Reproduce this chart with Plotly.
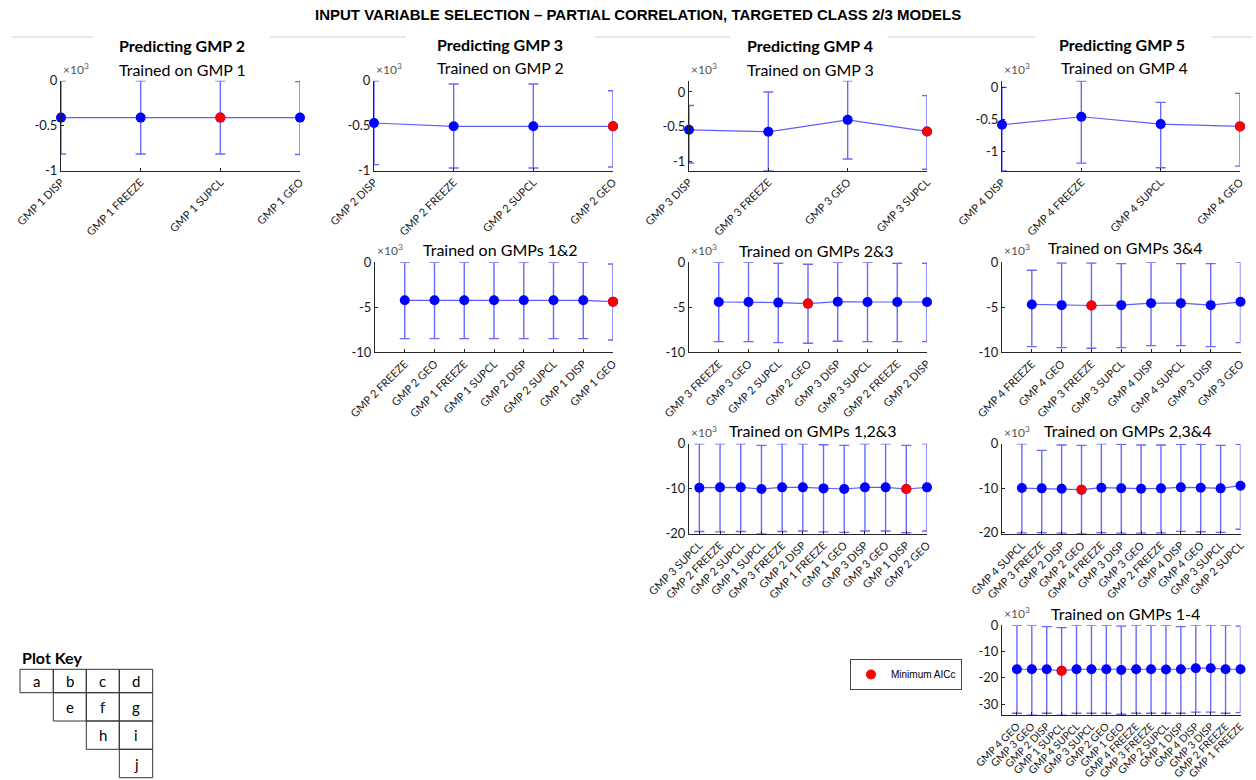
import plotly.graph_objects as go

W, H = 1256, 780

# ---------------- data (AICc, units of 10^3) ----------------
# a: Predicting GMP 2, trained on GMP 1
a_labels = ["GMP 1 DISP", "GMP 1 FREEZE", "GMP 1 SUPCL", "GMP 1 GEO"]
a_mean = [-0.41, -0.41, -0.41, -0.41]
a_high = [0.0, 0.0, 0.0, -0.01]
a_low = [-0.815, -0.815, -0.815, -0.82]
a_min = 2

# b: Predicting GMP 3, trained on GMP 2
b_labels = ["GMP 2 DISP", "GMP 2 FREEZE", "GMP 2 SUPCL", "GMP 2 GEO"]
b_mean = [-0.47, -0.507, -0.507, -0.507]
b_high = [0.0, -0.037, -0.037, -0.111]
b_low = [-0.933, -0.97, -0.97, -0.959]
b_min = 3

# c: Predicting GMP 4, trained on GMP 3
c_labels = ["GMP 3 DISP", "GMP 3 FREEZE", "GMP 3 GEO", "GMP 3 SUPCL"]
c_mean = [-0.548, -0.577, -0.404, -0.572]
c_high = [-0.197, 0.0, 0.16, -0.053]
c_low = [-1.029, -1.14, -0.971, -1.12]
c_min = 3

# d: Predicting GMP 5, trained on GMP 4
d_labels = ["GMP 4 DISP", "GMP 4 FREEZE", "GMP 4 SUPCL", "GMP 4 GEO"]
d_mean = [-0.583, -0.458, -0.573, -0.609]
d_high = [0.0, 0.10, -0.234, -0.094]
d_low = [-1.30, -1.182, -1.255, -1.229]
d_min = 3

# e: Predicting GMP 3, trained on GMPs 1&2
e_labels = ["GMP 2 FREEZE", "GMP 2 GEO", "GMP 1 FREEZE", "GMP 1 SUPCL",
            "GMP 2 DISP", "GMP 2 SUPCL", "GMP 1 DISP", "GMP 1 GEO"]
e_mean = [-4.22, -4.22, -4.22, -4.22, -4.22, -4.22, -4.22, -4.37]
e_high = [0.0, 0.0, 0.0, 0.0, 0.0, 0.0, 0.0, -0.19]
e_low = [-8.48, -8.48, -8.48, -8.48, -8.48, -8.48, -8.48, -8.63]
e_min = 7

# f: Predicting GMP 4, trained on GMPs 2&3
f_labels = ["GMP 3 FREEZE", "GMP 3 GEO", "GMP 2 SUPCL", "GMP 2 GEO",
            "GMP 3 DISP", "GMP 3 SUPCL", "GMP 2 FREEZE", "GMP 2 DISP"]
f_mean = [-4.41, -4.41, -4.48, -4.59, -4.37, -4.41, -4.41, -4.41]
f_high = [0.0, 0.0, -0.11, -0.22, 0.0, 0.0, -0.11, -0.11]
f_low = [-8.81, -8.81, -8.93, -9.0, -8.78, -8.81, -8.81, -8.81]
f_min = 3

# g: Predicting GMP 5, trained on GMPs 3&4
g_labels = ["GMP 4 FREEZE", "GMP 4 GEO", "GMP 3 FREEZE", "GMP 3 SUPCL",
            "GMP 4 DISP", "GMP 4 SUPCL", "GMP 3 DISP", "GMP 3 GEO"]
g_mean = [-4.68, -4.76, -4.80, -4.76, -4.54, -4.54, -4.76, -4.39]
g_high = [-0.89, -0.07, -0.07, -0.15, 0.0, -0.15, -0.15, 0.0]
g_low = [-9.37, -9.48, -9.55, -9.48, -9.26, -9.26, -9.37, -8.92]
g_min = 2

# h: Predicting GMP 4, trained on GMPs 1,2&3
h_labels = ["GMP 3 SUPCL", "GMP 2 FREEZE", "GMP 2 SUPCL", "GMP 1 SUPCL",
            "GMP 3 FREEZE", "GMP 2 DISP", "GMP 1 FREEZE", "GMP 1 GEO",
            "GMP 3 DISP", "GMP 3 GEO", "GMP 1 DISP", "GMP 2 GEO"]
h_mean = [-9.78, -9.70, -9.70, -10.07, -9.70, -9.70, -9.93, -10.07,
          -9.70, -9.70, -10.07, -9.70]
h_high = [0.0, 0.0, 0.0, -0.37, 0.0, 0.0, -0.22, -0.37, 0.0, 0.0, -0.37, 0.0]
h_low = [-19.5, -19.6, -19.5, -20.0, -19.5, -19.4, -19.6, -19.7,
         -19.4, -19.4, -19.8, -19.4]
h_min = 10

# i: Predicting GMP 5, trained on GMPs 2,3&4
i_labels = ["GMP 4 SUPCL", "GMP 3 FREEZE", "GMP 2 DISP", "GMP 2 GEO",
            "GMP 4 FREEZE", "GMP 3 DISP", "GMP 3 GEO", "GMP 2 FREEZE",
            "GMP 4 DISP", "GMP 4 GEO", "GMP 3 SUPCL", "GMP 2 SUPCL"]
i_mean = [-10.0, -10.07, -10.15, -10.37, -9.92, -10.07, -10.15, -10.07,
          -9.85, -9.92, -10.07, -9.47]
i_high = [0.0, -1.5, -0.3, -0.37, 0.0, -0.15, -0.3, -0.3, -0.15, -0.15, -0.37, -0.15]
i_low = [-20.15, -20.07, -20.2, -20.3, -20.07, -20.2, -20.2, -20.15,
         -19.77, -19.85, -20.0, -19.3]
i_min = 3

# j: Predicting GMP 5, trained on GMPs 1-4
j_labels = ["GMP 4 GEO", "GMP 3 GEO", "GMP 2 DISP", "GMP 1 SUPCL",
            "GMP 4 SUPCL", "GMP 3 SUPCL", "GMP 2 GEO", "GMP 1 GEO",
            "GMP 4 FREEZE", "GMP 3 FREEZE", "GMP 2 SUPCL", "GMP 1 DISP",
            "GMP 4 DISP", "GMP 3 DISP", "GMP 2 FREEZE", "GMP 1 FREEZE"]
j_mean = [-16.7, -16.7, -16.7, -17.3, -16.7, -16.7, -16.7, -16.96,
          -16.7, -16.7, -16.8, -16.7, -16.3, -16.3, -16.7, -16.7]
j_high = [0.0, 0.0, -0.5, -0.9, 0.0, 0.0, 0.0, -0.25,
          0.0, 0.0, 0.0, -0.5, 0.0, 0.0, 0.0, -0.25]
j_low = [-33.4, -34.2, -33.4, -34.2, -33.4, -33.4, -33.4, -33.8,
         -33.4, -33.4, -33.4, -33.4, -33.0, -33.0, -33.4, -33.2]
j_min = 3

# y tick values per panel
ticks_small = [0, -0.5, -1]
ticks_5 = [0, -5, -10]
ticks_10 = [0, -10, -20]
ticks_j = [0, -10, -20, -30]

# ---------------- layout of the panels (pixel boxes) ----------------
panels = [
    # labels, mean, high, low, min, yticks, xrange, yrange, (x0, x1, ytop), subtitle, subtitle pos, x tick size
    (a_labels, a_mean, a_high, a_low, a_min, ticks_small, [1, 4], [-1, 0], (61, 300, 80.7), "Trained on GMP 1", (182, 69), 11),
    (b_labels, b_mean, b_high, b_low, b_min, ticks_small, [1, 4], [-1, 0], (374, 613, 80.7), "Trained on GMP 2", (500, 67.5), 11),
    (c_labels, c_mean, c_high, c_low, c_min, ticks_small, [1, 4], [-1.14, 0.163], (689, 927, 80.7), "Trained on GMP 3", (810, 69), 11),
    (d_labels, d_mean, d_high, d_low, d_min, ticks_small, [1, 4], [-1.30, 0.104], (1002, 1240, 80.7), "Trained on GMP 4", (1124, 67.5), 11),
    (e_labels, e_mean, e_high, e_low, e_min, ticks_5, [0, 8], [-10, 0], (375, 613, 262.3), "Trained on GMPs 1&2", (500, 250), 11),
    (f_labels, f_mean, f_high, f_low, f_min, ticks_5, [0, 8], [-10, 0], (689, 927, 262.3), "Trained on GMPs 2&3", (816, 250.5), 11),
    (g_labels, g_mean, g_high, g_low, g_min, ticks_5, [0, 8], [-10, 0], (1002, 1240.5, 262.3), "Trained on GMPs 3&4", (1125, 248), 11),
    (h_labels, h_mean, h_high, h_low, h_min, ticks_10, [0.5, 12], [-20, 0], (689, 927, 443.7), "Trained on GMPs 1,2&3", (813, 430), 11),
    (i_labels, i_mean, i_high, i_low, i_min, ticks_10, [0, 12], [-20.3, 0], (1002, 1240.5, 443.7), "Trained on GMPs 2,3&4", (1128, 430), 11),
    (j_labels, j_mean, j_high, j_low, j_min, ticks_j, [0, 16], [-34.2, 0], (1002, 1240.5, 625.3), "Trained on GMPs 1-4", (1125, 613), 10.5),
]
PANEL_H = 90

BLUE = "#0000ff"
RED = "#ff0000"
AXC = "#262626"
TXT = "#1a1a1a"
FONT = "Lato"


def fx(px):
    return px / W


def fy(py):
    return 1 - py / H


fig = go.Figure()
annotations = []
shapes = []

for k, (labels, mean, high, low, imin, yt, xr, yr, box, sub, subpos, xts) in enumerate(panels, start=1):
    x0, x1, ytop = box
    xs = list(range(1, len(labels) + 1))
    err_plus = [hv - m for hv, m in zip(high, mean)]
    err_minus = [m - lv for lv, m in zip(low, mean)]
    sfx = "" if k == 1 else str(k)

    fig.add_trace(go.Scatter(
        x=xs, y=mean, mode="lines+markers",
        line=dict(color="rgba(40,40,255,0.75)", width=1.2),
        marker=dict(color=BLUE, size=10),
        error_y=dict(type="data", symmetric=False, array=err_plus, arrayminus=err_minus,
                     color="rgba(40,40,255,0.7)", thickness=1.4, width=5),
        cliponaxis=False, showlegend=False, hoverinfo="skip",
        xaxis="x" + sfx, yaxis="y" + sfx,
    ))
    fig.add_trace(go.Scatter(
        x=[xs[imin]], y=[mean[imin]], mode="markers",
        marker=dict(color=RED, size=10),
        name="Minimum AICc", showlegend=(k == 1),
        cliponaxis=False, hoverinfo="skip",
        xaxis="x" + sfx, yaxis="y" + sfx,
    ))

    ybot = ytop + PANEL_H
    fig.layout["xaxis" + sfx] = dict(
        domain=[fx(x0), fx(x1)], anchor="y" + sfx, range=xr, automargin=False,
        tickmode="array", tickvals=xs, ticktext=labels, tickangle=-45,
        showline=True, linecolor=AXC, linewidth=1, ticks="inside", ticklen=3,
        tickcolor=AXC, showgrid=False, zeroline=False, fixedrange=True,
        tickfont=dict(family=FONT, size=xts, color=TXT),
    )
    fig.layout["yaxis" + sfx] = dict(
        domain=[fy(ybot), fy(ytop)], anchor="x" + sfx, range=yr, automargin=False,
        tickmode="array", tickvals=yt, ticktext=[("%g" % v) for v in yt],
        showline=True, linecolor=AXC, linewidth=1, ticks="inside", ticklen=3,
        tickcolor=AXC, showgrid=False, zeroline=False, fixedrange=True,
        tickfont=dict(family=FONT, size=13, color=TXT),
    )
    # exponent label above the y axis
    annotations.append(dict(
        x=fx(x0), y=fy(ytop - 2), xref="paper", yref="paper",
        xanchor="left", yanchor="bottom", showarrow=False,
        text="×10<sup>3</sup>", font=dict(family=FONT, size=12, color="#555555"),
    ))
    annotations.append(dict(
        x=fx(subpos[0]), y=fy(subpos[1]), xref="paper", yref="paper",
        xanchor="center", yanchor="middle", showarrow=False,
        text=sub, font=dict(family=FONT, size=16, color="#000000"),
    ))

# column headers
col_heads = ["Predicting GMP 2", "Predicting GMP 3", "Predicting GMP 4", "Predicting GMP 5"]
col_head_pos = [(182, 45), (500, 44), (810, 45), (1122, 44)]
for t, (cx, cy) in zip(col_heads, col_head_pos):
    annotations.append(dict(
        x=fx(cx), y=fy(cy), xref="paper", yref="paper", xanchor="center",
        yanchor="middle", showarrow=False, text="<b>%s</b>" % t,
        font=dict(family=FONT, size=16, color="#000000"),
    ))

# thin separators flanking the headers
for sx0, sx1 in [(12, 93), (270, 406), (595, 730), (888, 1035), (1212, 1252)]:
    shapes.append(dict(type="line", xref="paper", yref="paper",
                       x0=fx(sx0), x1=fx(sx1), y0=fy(37), y1=fy(37),
                       line=dict(color="#cfcfcf", width=1)))

# main title
annotations.append(dict(
    x=fx(638), y=fy(14), xref="paper", yref="paper", xanchor="center", yanchor="middle",
    showarrow=False,
    text="<b>INPUT VARIABLE SELECTION – PARTIAL CORRELATION, TARGETED CLASS 2/3 MODELS</b>",
    font=dict(family="Liberation Sans", size=15, color="#000000"),
))

# plot key grid
annotations.append(dict(
    x=fx(20), y=fy(657), xref="paper", yref="paper", xanchor="left", yanchor="middle",
    showarrow=False, text="<b>Plot Key</b>", font=dict(family=FONT, size=16, color="#000000"),
))
key_cols = [20, 53.3, 86.3, 119.3, 152.7]
key_rows = [669.3, 692.7, 721, 749.3, 777.7]
key_letters = [["a", "b", "c", "d"], ["e", "f", "g"], ["h", "i"], ["j"]]
for r, letters in enumerate(key_letters):
    start = 4 - len(letters)
    for c, letter in enumerate(letters):
        cc = start + c
        shapes.append(dict(type="rect", xref="paper", yref="paper",
                           x0=fx(key_cols[cc]), x1=fx(key_cols[cc + 1]),
                           y0=fy(key_rows[r + 1]), y1=fy(key_rows[r]),
                           line=dict(color="#333333", width=1)))
        annotations.append(dict(
            x=fx((key_cols[cc] + key_cols[cc + 1]) / 2), y=fy((key_rows[r] + key_rows[r + 1]) / 2),
            xref="paper", yref="paper", xanchor="center", yanchor="middle", showarrow=False,
            text=letter, font=dict(family=FONT, size=15, color="#000000"),
        ))

fig.update_layout(
    width=W, height=H, margin=dict(l=0, r=0, t=0, b=0, autoexpand=False),
    paper_bgcolor="white", plot_bgcolor="white",
    annotations=annotations, shapes=shapes,
    legend=dict(x=fx(850), y=fy(659), xanchor="left", yanchor="top",
                bgcolor="white", bordercolor="#444444", borderwidth=1,
                font=dict(family="Liberation Sans", size=10, color="#000000"),
                itemwidth=30, tracegroupgap=0),
)

fig.write_html("out.html")
